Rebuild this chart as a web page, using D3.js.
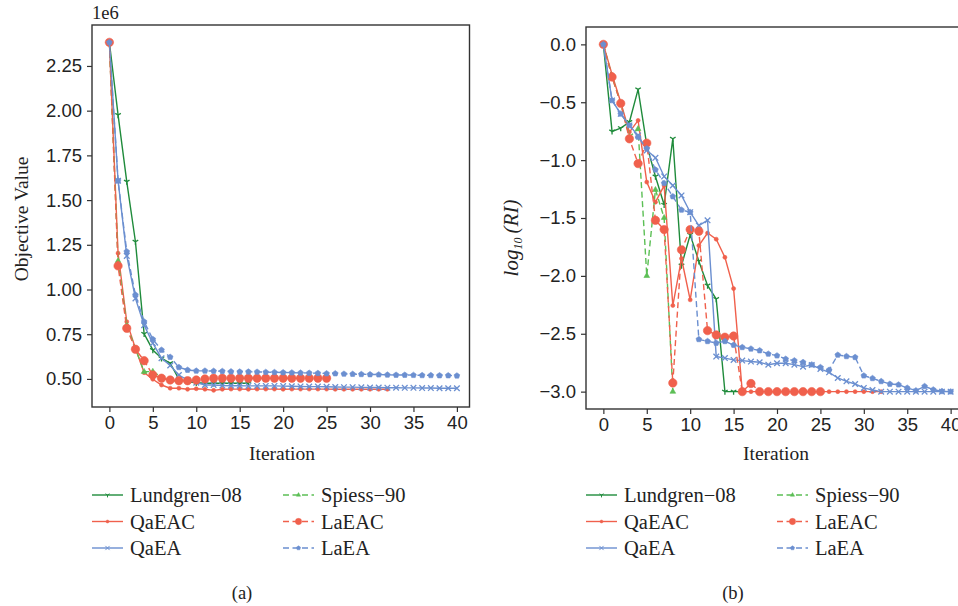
<!DOCTYPE html>
<html>
<head>
<meta charset="utf-8">
<script src="https://cdn.jsdelivr.net/npm/d3@7"></script>
<style>
  body { margin: 0; background: #fff; }
  svg { display: block; font-family: "Liberation Serif", "DejaVu Serif", serif; }
  .domain { display: none; }
  .tick line { stroke: #333; stroke-width: 1.2; }
  .tick text { font-size: 18.5px; fill: #222; }
</style>
</head>
<body>
<svg id="chart"></svg>
<script>
// iterations are just the array index
// objective values, in units of 1e6
let lundgrenObj = [2.382, 1.976, 1.603, 1.267, 0.752, 0.662, 0.616, 0.588, 0.498, 0.484, 0.479, 0.476, 0.476, 0.476, 0.476, 0.476, 0.476];
let spiessObj = [2.382, 1.16, 0.80, 0.67, 0.54, 0.541, 0.509, 0.492, 0.486];
let qaeacObj = [2.382, 1.203, 0.82, 0.67, 0.535, 0.498, 0.466, 0.448, 0.448, 0.442, 0.445, 0.442, 0.436, 0.442, 0.443, 0.443, 0.442, 0.443,
  0.443, 0.443, 0.442, 0.443, 0.443, 0.443, 0.443, 0.443, 0.442, 0.442, 0.442, 0.442, 0.442, 0.442, 0.442];
let laeacObj = [2.382, 1.132, 0.783, 0.666, 0.602, 0.522, 0.504, 0.494, 0.490, 0.490, 0.494, 0.500, 0.504, 0.504, 0.504, 0.504, 0.504,
  0.504, 0.504, 0.504, 0.504, 0.504, 0.504, 0.504, 0.504, 0.504];
let qaeaObj = [2.382, 1.608, 1.188, 0.950, 0.800, 0.700, 0.616, 0.575, 0.522, 0.494, 0.479, 0.466, 0.466, 0.463, 0.462, 0.462, 0.461,
  0.461, 0.461, 0.461, 0.460, 0.459, 0.458, 0.457, 0.457, 0.456, 0.455, 0.454, 0.454, 0.453, 0.452, 0.452, 0.451, 0.451, 0.450,
  0.450, 0.449, 0.449, 0.448, 0.448, 0.448];
let laeaObj = [2.382, 1.608, 1.212, 0.970, 0.820, 0.722, 0.662, 0.622, 0.565, 0.550, 0.545, 0.545, 0.544, 0.543, 0.541, 0.540, 0.540,
  0.539, 0.538, 0.537, 0.536, 0.535, 0.534, 0.533, 0.532, 0.530, 0.530, 0.528, 0.527, 0.526, 0.525, 0.524, 0.523, 0.522, 0.522,
  0.521, 0.520, 0.520, 0.519, 0.519, 0.518];

// log10(RI)
let lundgrenRI = [0, -0.752, -0.723, -0.671, -0.389, -0.87, -1.141, -1.386, -0.815, -1.91, -1.645, -1.873, -2.083, -2.2, -3.0, -3.0, -3.0];
let spiessRI = [0, -0.28, -0.51, -0.80, -0.73, -2.0, -1.256, -1.498, -3.0];
let qaeacRI = [0, -0.26, -0.50, -0.758, -0.657, -1.19, -1.363, -1.22, -2.256, -1.85, -2.207, -1.738, -1.63, -1.683, -1.84, -2.11, -3.0,
  -3.0, -3.0, -3.0, -3.0, -3.0, -3.0, -3.0, -3.0, -3.0, -3.0, -3.0, -3.0, -3.0, -3.0, -3.0, -3.0];
let laeacRI = [0, -0.282, -0.51, -0.816, -1.03, -0.853, -1.52, -1.60, -2.925, -1.775, -1.60, -1.614, -2.473, -2.51, -2.53, -2.52, -3.0,
  -2.93, -3.0, -3.0, -3.0, -3.0, -3.0, -3.0, -3.0, -3.0];
let qaeaRI = [0, -0.484, -0.60, -0.70, -0.787, -0.916, -0.98, -1.141, -1.219, -1.305, -1.45, -1.565, -1.52, -2.697, -2.71, -2.726, -2.732,
  -2.74, -2.746, -2.767, -2.755, -2.755, -2.767, -2.784, -2.77, -2.804, -2.833, -2.882, -2.911, -2.934, -2.968, -2.986, -3.0,
  -3.0, -3.0, -3.0, -3.0, -3.0, -3.0, -3.0, -3.0];
let laeaRI = [0, -0.484, -0.60, -0.70, -0.80, -0.90, -1.083, -1.199, -1.314, -1.43, -1.45, -2.548, -2.565, -2.58, -2.565, -2.597, -2.617,
  -2.63, -2.645, -2.674, -2.689, -2.718, -2.732, -2.746, -2.767, -2.79, -2.813, -2.683, -2.695, -2.703, -2.862, -2.885, -2.911,
  -2.934, -2.94, -2.968, -2.991, -2.954, -2.983, -2.997, -3.0];

let seriesNames = ["Lundgren\u221208", "QaEAC", "QaEA", "Spiess\u221290", "LaEAC", "LaEA"];
let objSeries = [lundgrenObj, qaeacObj, qaeaObj, spiessObj, laeacObj, laeaObj];
let riSeries = [lundgrenRI, qaeacRI, qaeaRI, spiessRI, laeacRI, laeaRI];

let xTicks = [0, 5, 10, 15, 20, 25, 30, 35, 40];
let objTicks = [0.50, 0.75, 1.00, 1.25, 1.50, 1.75, 2.00, 2.25];
let riTicks = [0.0, -0.5, -1.0, -1.5, -2.0, -2.5, -3.0];

// styles
let colors = ["#1f8b3b", "#f0604c", "#6b8fd0", "#5cbf55", "#f0604c", "#6b8fd0"];
let dashes = [null, null, null, "6,3.5", "6,3.5", "6,3.5"];
let markers = ["tri_down", "point", "x", "tri_up", "circle", "pentagon"];

function markerPath(type) {
  let p = d3.path();
  if (type == "tri_down") {
    let r = 3.2;
    p.moveTo(0, 0); p.lineTo(0, r);
    p.moveTo(0, 0); p.lineTo(-r * 0.87, -r * 0.5);
    p.moveTo(0, 0); p.lineTo(r * 0.87, -r * 0.5);
  } else if (type == "tri_up") {
    let r = 3.3;
    p.moveTo(0, -r); p.lineTo(r * 0.87, r * 0.5); p.lineTo(-r * 0.87, r * 0.5); p.closePath();
  } else if (type == "point") {
    p.arc(0, 0, 2.0, 0, 2 * Math.PI);
  } else if (type == "circle") {
    p.arc(0, 0, 4.2, 0, 2 * Math.PI);
  } else if (type == "x") {
    let r = 2.8;
    p.moveTo(-r, -r); p.lineTo(r, r);
    p.moveTo(-r, r); p.lineTo(r, -r);
  } else if (type == "pentagon") {
    let r = 3.0;
    for (let k = 0; k < 5; k++) {
      let a = -Math.PI / 2 + k * 2 * Math.PI / 5;
      if (k == 0) p.moveTo(r * Math.cos(a), r * Math.sin(a));
      else p.lineTo(r * Math.cos(a), r * Math.sin(a));
    }
    p.closePath();
  }
  return p.toString();
}

function drawMarker(sel, type, color) {
  let filled = type != "tri_down" && type != "x";
  sel.append("path")
    .attr("d", markerPath(type))
    .attr("fill", filled ? color : "none")
    .attr("stroke", color)
    .attr("stroke-width", filled ? 0.6 : 1.3);
}

function makePanel(svg, opts) {
  let g = svg.append("g");
  let x = d3.scaleLinear().domain(opts.xDomain).range([opts.left, opts.right]);
  let y = d3.scaleLinear().domain(opts.yDomain).range([opts.bottom, opts.top]);

  let line = d3.line().x((d, i) => x(i)).y(d => y(d));

  opts.series.forEach((vals, s) => {
    g.append("path")
      .datum(vals)
      .attr("d", line)
      .attr("fill", "none")
      .attr("stroke", colors[s])
      .attr("stroke-width", 1.4)
      .attr("stroke-dasharray", dashes[s]);
    g.selectAll(null)
      .data(vals)
      .enter()
      .append("g")
      .attr("transform", (d, i) => `translate(${x(i)},${y(d)})`)
      .each(function() { drawMarker(d3.select(this), markers[s], colors[s]); });
  });

  g.append("g")
    .attr("transform", `translate(0,${opts.bottom})`)
    .call(d3.axisBottom(x).tickValues(xTicks).tickSize(5).tickPadding(4).tickFormat(d3.format("d")));
  g.append("g")
    .attr("transform", `translate(${opts.left},0)`)
    .call(d3.axisLeft(y).tickValues(opts.yTicks).tickSize(5).tickPadding(5).tickFormat(d3.format(opts.yFormat)));

  g.append("rect")
    .attr("x", opts.left).attr("y", opts.top)
    .attr("width", opts.right - opts.left).attr("height", opts.bottom - opts.top)
    .attr("fill", "none").attr("stroke", "#333").attr("stroke-width", 1.4);

  g.append("text")
    .attr("x", opts.labelX)
    .attr("y", 460)
    .attr("text-anchor", "middle")
    .attr("font-size", 19.5)
    .attr("fill", "#222")
    .text("Iteration");

  // legend, two columns
  let legend = g.append("g");
  seriesNames.forEach((name, s) => {
    let col = Math.floor(s / 3), row = s % 3;
    let lx = opts.legendX[col], ly = 495 + row * 26.5;
    let item = legend.append("g").attr("transform", `translate(${lx},${ly})`);
    item.append("line")
      .attr("x1", 0).attr("x2", 31).attr("y1", 0).attr("y2", 0)
      .attr("stroke", colors[s]).attr("stroke-width", 1.4)
      .attr("stroke-dasharray", dashes[s]);
    drawMarker(item.append("g").attr("transform", "translate(15.5,0) scale(0.75)"), markers[s], colors[s]);
    item.append("text")
      .attr("x", 38).attr("y", 7)
      .attr("font-size", 20.5)
      .attr("fill", "#222")
      .text(name);
  });

  g.append("text")
    .attr("x", opts.tagX).attr("y", 599)
    .attr("text-anchor", "middle")
    .attr("font-size", 18.5)
    .attr("fill", "#222")
    .text(opts.tag);

  return g;
}

function makeChart() {
  let svg = d3.select("#chart").attr("width", 958).attr("height", 606);

  let left = makePanel(svg, {
    left: 92, right: 469.5, top: 25, bottom: 407,
    xDomain: [-2, 41.45], yDomain: [0.343, 2.479],
    yTicks: objTicks, yFormat: ".2f",
    series: objSeries, labelX: 282,
    legendX: [92, 283], tag: "(a)", tagX: 242
  });
  left.append("text")
    .attr("x", 92).attr("y", 19)
    .attr("font-size", 18.5).attr("fill", "#222")
    .text("1e6");
  left.append("text")
    .attr("transform", "translate(28,219) rotate(-90)")
    .attr("text-anchor", "middle")
    .attr("font-size", 19.5).attr("fill", "#222")
    .text("Objective Value");

  let right = makePanel(svg, {
    left: 586, right: 968, top: 27, bottom: 409,
    xDomain: [-2, 42], yDomain: [-3.15, 0.15],
    yTicks: riTicks, yFormat: ".1f",
    series: riSeries, labelX: 776,
    legendX: [586, 777], tag: "(b)", tagX: 733
  });
  let ylab = right.append("text")
    .attr("transform", "translate(518,238) rotate(-90)")
    .attr("text-anchor", "middle")
    .attr("font-size", 21).attr("fill", "#222")
    .attr("font-style", "italic");
  ylab.append("tspan").text("log");
  ylab.append("tspan").attr("font-size", 12).attr("dy", 4).text("10");
  ylab.append("tspan").attr("dy", -4).text("\u2009(RI)");
}

window.onload = function() {
  makeChart();
}
</script>
</body>
</html>
